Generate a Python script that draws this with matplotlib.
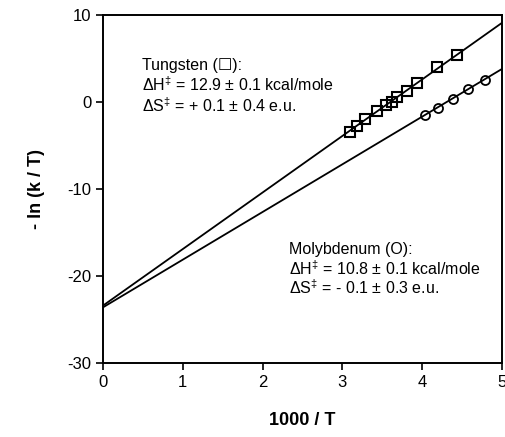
import matplotlib
matplotlib.use("Agg")
import matplotlib.pyplot as plt

plt.rcParams["font.family"] = ["Liberation Sans", "DejaVu Sans"]
plt.rcParams["axes.unicode_minus"] = False
plt.rcParams["mathtext.fontset"] = "custom"
plt.rcParams["mathtext.rm"] = "Liberation Sans"

# tungsten (squares)
w_x = [3.09, 3.18, 3.28, 3.43, 3.55, 3.62, 3.69, 3.81, 3.94, 4.19, 4.43]
w_y = [-3.45, -2.75, -2.0, -1.0, -0.35, -0.02, 0.55, 1.25, 2.18, 4.0, 5.45]
# molybdenum (circles)
mo_x = [4.04, 4.20, 4.39, 4.57, 4.79]
mo_y = [-1.55, -0.65, 0.38, 1.46, 2.55]

# least-squares lines, read at the axis ends
fit_x = [0, 5]
w_fit = [-23.4, 9.1]
mo_fit = [-23.6, 3.8]

x_ticks = [0, 1, 2, 3, 4, 5]
y_ticks = [-30, -20, -10, 0, 10]


def main():
    fig = plt.figure(figsize=(5.06, 4.37), dpi=100)
    ax = fig.add_axes([0.2036, 0.1693, 0.7885, 0.7964])

    ax.plot(fit_x, w_fit, color="black", lw=1.3)
    ax.plot(fit_x, mo_fit, color="black", lw=1.3)
    ax.plot(w_x, w_y, ls="none", marker="s", ms=7.2, mfc="none",
            mec="black", mew=1.5)
    ax.plot(mo_x, mo_y, ls="none", marker="o", ms=6.5, mfc="none",
            mec="black", mew=1.3)

    ax.set_xlim(0, 5)
    ax.set_ylim(-30, 10)
    ax.set_xticks(x_ticks)
    ax.set_yticks(y_ticks)
    ax.tick_params(direction="out", length=5, width=1.2, labelsize=12)
    for s in ax.spines.values():
        s.set_linewidth(1.4)

    ax.set_xlabel("1000 / T", fontsize=13, fontweight="bold", labelpad=16)
    ax.set_ylabel("- ln (k / T)", fontsize=13, fontweight="bold", labelpad=16)

    fs = 11.5
    dag = "$^{\u2021}$"
    ax.text(0.49, 4.25, "Tungsten (\u2610):", fontsize=fs, va="center")
    ax.text(0.49, 1.95, "\u0394H" + dag + " = 12.9 \u00b1 0.1 kcal/mole", fontsize=fs, va="center")
    ax.text(0.49, -0.46, "\u0394S" + dag + " = + 0.1 \u00b1 0.4 e.u.", fontsize=fs, va="center")

    ax.text(2.33, -16.9, "Molybdenum (O):", fontsize=fs, va="center")
    ax.text(2.33, -19.1, "\u0394H" + dag + " = 10.8 \u00b1 0.1 kcal/mole", fontsize=fs, va="center")
    ax.text(2.33, -21.3, "\u0394S" + dag + " = - 0.1 \u00b1 0.3 e.u.", fontsize=fs, va="center")

    fig.savefig("out.png", dpi=100)


if __name__ == "__main__":
    main()
